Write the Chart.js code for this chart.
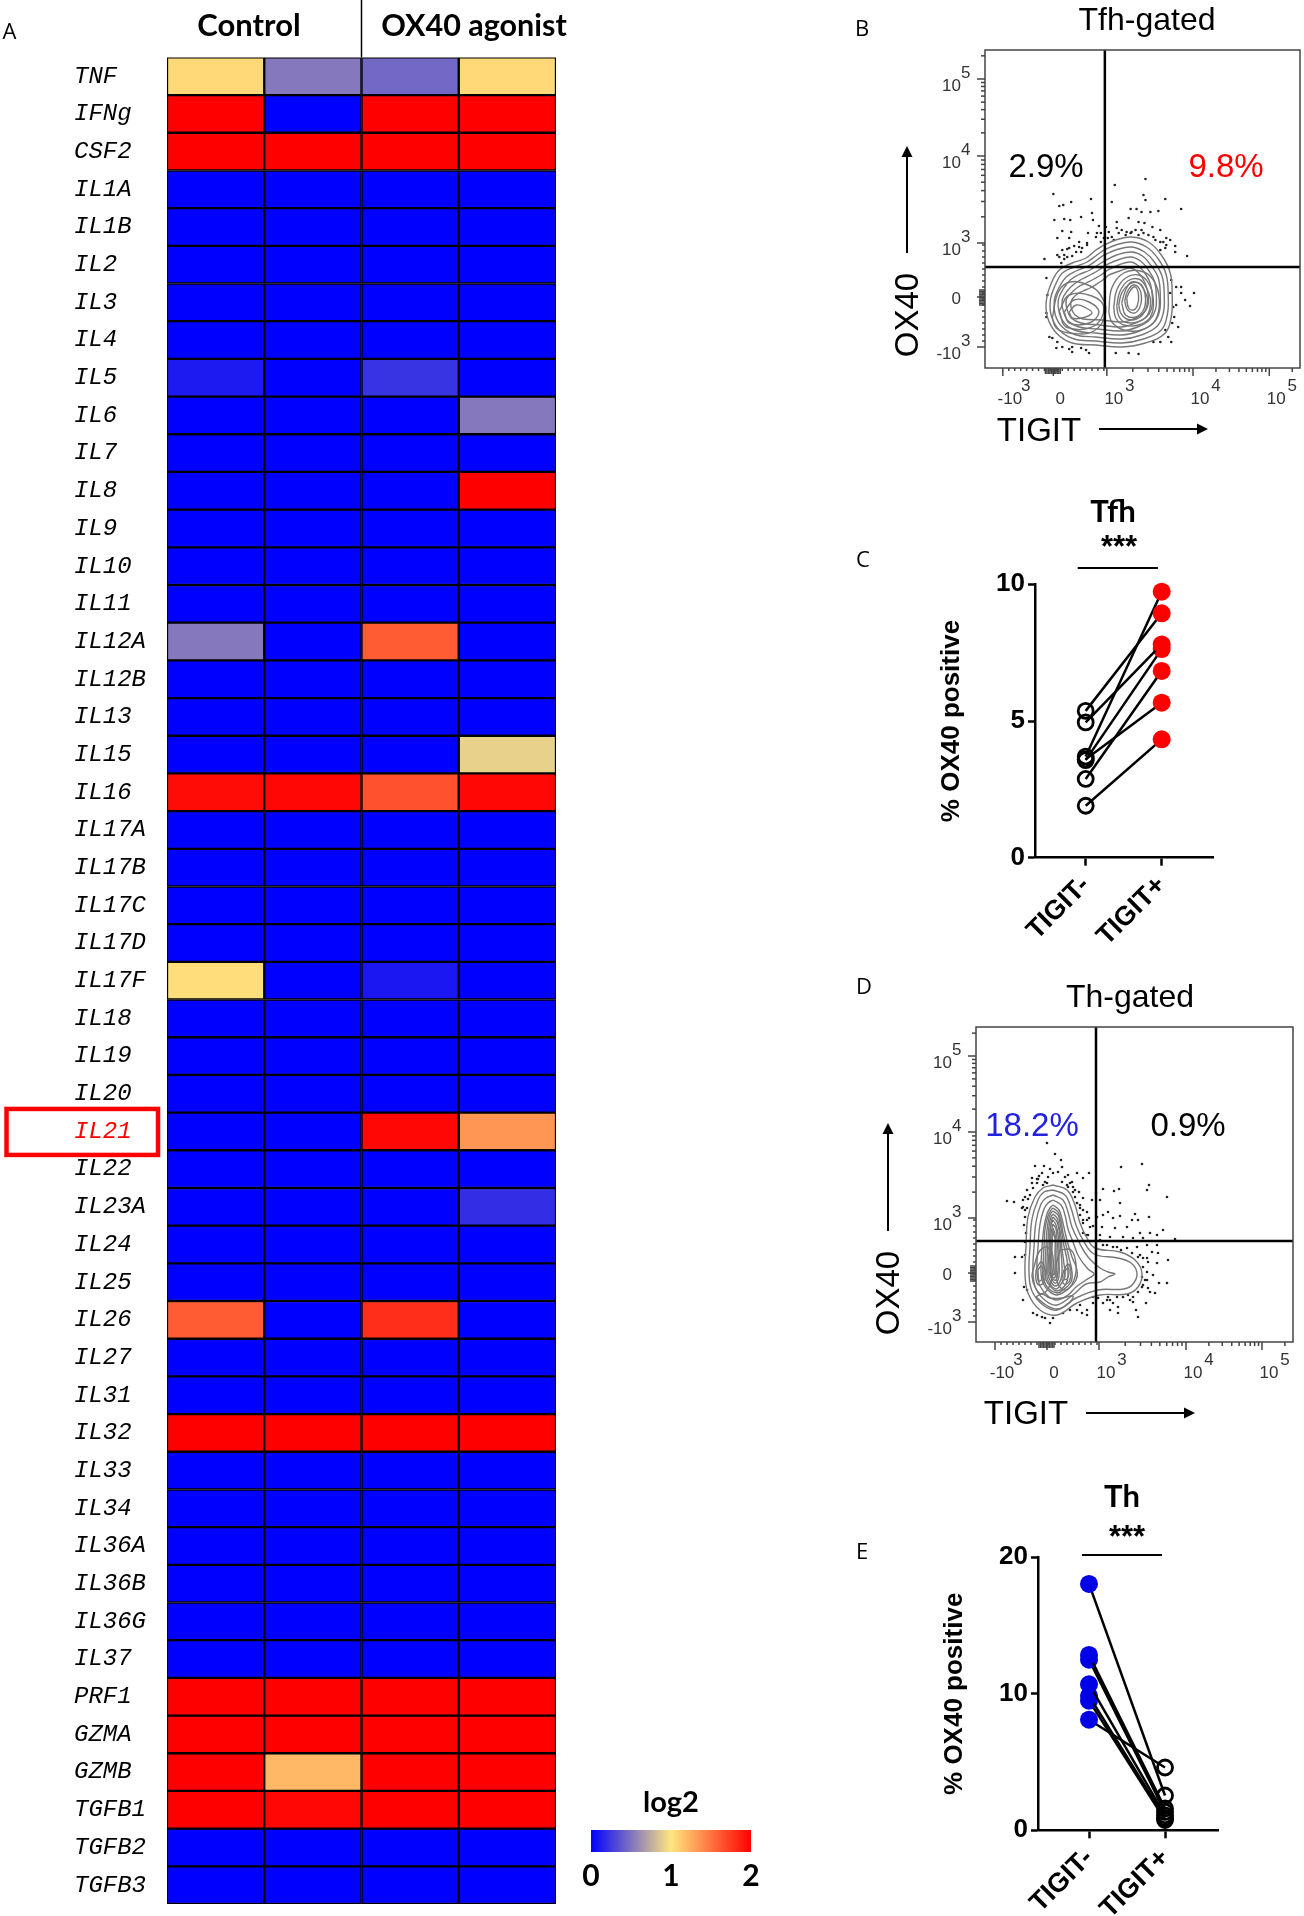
<!DOCTYPE html>
<html>
<head>
<meta charset="utf-8">
<title>OX40 TIGIT figure</title>
<script src="https://cdn.jsdelivr.net/npm/chart.js@4/dist/chart.umd.js"></script>
<style>
  html, body { margin: 0; background: #fff; }
  #page { position: relative; width: 1304px; height: 1916px; overflow: hidden; }
  canvas { position: absolute; left: 0; top: 0; }
</style>
</head>
<body>
<div id="page">
  <canvas id="heat" width="1304" height="1916"></canvas>
  <canvas id="legendBar" width="1304" height="1916"></canvas>
  <canvas id="flowB" width="1304" height="1916"></canvas>
  <canvas id="pairC" width="1304" height="1916"></canvas>
  <canvas id="flowD" width="1304" height="1916"></canvas>
  <canvas id="pairE" width="1304" height="1916"></canvas>
</div>
<script>
// panel A
var genes = ['TNF','IFNg','CSF2','IL1A','IL1B','IL2','IL3','IL4','IL5','IL6',
  'IL7','IL8','IL9','IL10','IL11','IL12A','IL12B','IL13','IL15','IL16',
  'IL17A','IL17B','IL17C','IL17D','IL17F','IL18','IL19','IL20','IL21','IL22',
  'IL23A','IL24','IL25','IL26','IL27','IL31','IL32','IL33','IL34','IL36A',
  'IL36B','IL36G','IL37','PRF1','GZMA','GZMB','TGFB1','TGFB2','TGFB3']
var control1 = [1.06,2,2,0,0,0,0,0,.11,0,
  0,0,0,0,0,.52,0,0,0,1.95,
  0,0,0,0,1.04,0,0,0,0,0,
  0,0,0,1.6,0,0,2,0,0,0,
  0,0,0,2,2,2,2,0,0]
var control2 = [.52,0,2,0,0,0,0,0,0,0,
  0,0,0,0,0,0,0,0,0,1.97,
  0,0,0,0,0,0,0,0,0,0,
  0,0,0,0,0,0,2,0,0,0,
  0,0,0,2,2,1.2,1.97,0,0]
var agonist1 = [.45,2,2,0,0,0,0,0,.22,0,
  0,0,0,0,0,1.6,0,0,0,1.65,
  0,0,0,0,.1,0,0,0,1.97,0,
  0,0,0,1.8,0,0,2,0,0,0,
  0,0,0,2,2,2,2,0,0]
var agonist2 = [1.06,2,2,0,0,0,0,0,0,.52,
  0,2,0,0,0,0,0,0,.91,1.97,
  0,0,0,0,0,0,0,0,1.35,0,
  .2,0,0,0,0,0,2,0,0,0,
  0,0,0,2,2,2,2,0,0]
var legendTicks = [0, 1, 2]

// panels C and E, same order = same donor
var pairLabels = ['TIGIT-', 'TIGIT+']
var tfhNeg = [1.9, 3.6, 2.88, 5.37, 4.95, 3.7, 3.57]
var tfhPos = [4.33, 5.67, 6.83, 8.94, 7.8, 9.73, 7.63]
var thNeg = [18.05, 12.85, 12.5, 10.7, 9.85, 9.5, 8.1]
var thPos = [2.55, 1.6, 1.35, 1.1, 0.9, 0.75, 4.6]

// flow panels, all in channel units
var tickLabelsFlow = ['-10|3', '0', '10|3', '10|4', '10|5']
var xTicksB = [18, 69, 123, 210, 287]
var yTicksB = [21, 71, 125, 212, 289]
var xTicksD = [19, 71, 123, 210, 286]
var yTicksD = [20, 69, 124, 210, 286]
var gatesB = [121, 101]
var gatesD = [120, 101]

var contoursB = [
  [[120,123],[132,128],[148,131],[165,126],[178,113],[187,95],[189,71],[188,51],[182,35],[162,25],[138,21],[112,23],[88,25],[72,35],[63,51],[62,68],[67,85],[75,98],[88,105],[102,110],[112,118]],
  [[120,118],[132,123],[148,126],[163,121],[175,109],[183,93],[185,71],[184,53],[178,38],[160,29],[138,25],[112,27],[90,29],[75,38],[67,52],[66,68],[71,83],[78,95],[90,101],[103,106],[113,113]],
  [[120,113],[132,118],[148,121],[161,116],[171,106],[179,91],[181,71],[180,55],[174,42],[158,33],[138,29],[112,31],[92,33],[78,41],[71,53],[70,68],[75,81],[82,91],[92,97],[104,102],[113,108]],
  [[122,108],[133,113],[148,116],[159,112],[168,102],[175,90],[177,71],[176,56],[170,45],[156,37],[138,33],[112,35],[93,37],[81,44],[75,55],[74,68],[79,79],[86,88],[94,93],[106,98],[114,103]],
  [[122,103],[134,108],[147,111],[157,107],[165,98],[171,87],[173,71],[172,58],[166,48],[154,41],[138,37],[114,39],[95,41],[84,47],[79,57],[78,68],[83,77],[90,84],[98,89],[108,94],[115,98]],
  [[124,98],[135,103],[147,106],[155,102],[162,94],[167,84],[169,71],[168,59],[163,51],[152,45],[138,41],[116,43],[97,45],[87,50],[83,58],[82,68],[87,75],[94,81],[102,85],[110,89],[117,93]],
  [[125,93],[136,97],[146,100],[153,97],[159,90],[163,81],[165,71],[164,61],[159,54],[150,49],[138,46],[118,48],[99,49],[91,53],[87,60],[87,67],[92,73],[99,77],[106,80],[113,84],[119,88]],
  [[125,56],[128,80],[140,95],[157,97],[170,88],[176,68],[172,48],[158,38],[140,38],[128,46]],
  [[130,61],[133,78],[142,90],[155,93],[165,85],[170,68],[167,51],[155,43],[140,43],[132,50]],
  [[133,62],[136,76],[144,87],[155,89],[162,82],[167,68],[164,53],[154,46],[141,46],[135,52]],
  [[135,63],[138,75],[146,84],[155,85],[160,79],[164,69],[161,56],[153,49],[143,49],[137,55]],
  [[138,65],[142,78],[148,86],[158,83],[162,70],[160,58],[152,51],[142,53]],
  [[141,67],[144,77],[150,83],[156,79],[158,69],[156,60],[151,55],[144,58]],
  [[143,70],[147,78],[152,81],[155,73],[154,63],[150,58],[145,60]],
  [[68,50],[74,76],[86,86],[104,83],[116,74],[122,56],[110,37],[85,35],[72,40]],
  [[75,57],[85,73],[108,72],[120,60],[110,42],[82,41]],
  [[80,56],[90,68],[105,66],[115,56],[105,45],[85,45]],
  [[85,56],[92,63],[102,60],[108,55],[98,50],[88,50]]
]
var dotsB = [[69,174],[75,162],[79,163],[87,166],[107,169],[131,183],[162,189],[160,173],[162,168],[182,169],
  [198,159],[128,166],[70,148],[80,149],[86,148],[97,151],[108,155],[109,148],[147,159],[153,159],
  [158,156],[167,156],[175,157],[133,146],[145,150],[155,146],[161,145],[169,141],[115,142],[78,137],
  [87,136],[73,130],[85,130],[104,135],[113,135],[122,141],[125,136],[133,140],[143,136],[152,138],
  [160,135],[177,138],[183,130],[180,126],[187,128],[192,122],[192,116],[204,112],[95,126],[103,125],
  [98,120],[90,122],[83,119],[78,118],[97,116],[88,112],[80,113],[73,113],[80,109],[60,109],
  [77,105],[62,90],[63,73],[62,55],[193,81],[198,81],[198,75],[202,68],[211,75],[207,62],
  [193,63],[187,75],[191,51],[195,41],[188,26],[182,38],[170,26],[155,14],[145,15],[132,15],
  [105,15],[97,20],[88,16],[72,20],[78,21],[120,130],[117,126],[130,128],[142,133],[147,135],
  [155,133],[172,128],[182,120],[177,118],[170,131],
  [112,131],[117,135],[124,130],[128,131],[135,135],[138,138],[148,136],[158,138],[165,133],[177,126],
  [183,123],[75,111],[83,111],[92,116],[85,120],[95,121],[103,123],[78,101],[188,88],[190,61],
  [189,45],[185,31],[177,26],[102,18],[88,21],[85,19],[73,26],[68,30],[65,31],[62,51]]

var contoursD = [
  [[77,157],[91,152],[99,137],[104,119],[111,104],[119,94],[144,90],[159,82],[166,69],[162,55],[151,48],[124,47],[101,39],[81,27],[64,32],[52,49],[49,69],[50,95],[52,125],[59,145],[67,154]],
  [[77,152],[89,147],[95,134],[100,117],[107,102],[118,88],[142,84],[155,79],[161,69],[157,58],[148,53],[122,52],[100,44],[81,32],[67,37],[56,51],[53,69],[54,95],[56,123],[62,142],[68,150]],
  [[77,147],[87,142],[92,130],[96,115],[103,100],[112,85],[124,74],[132,70],[139,68],[132,65],[124,60],[110,58],[98,48],[81,37],[70,41],[60,53],[57,69],[58,95],[60,120],[65,138],[70,144]],
  [[77,142],[85,137],[89,127],[92,113],[97,100],[103,85],[112,73],[118,68],[110,62],[100,55],[92,47],[81,42],[72,46],[64,56],[61,69],[62,95],[64,118],[68,133],[72,139]],
  [[77,137],[83,132],[86,123],[89,110],[92,98],[96,85],[101,72],[100,62],[92,53],[81,47],[73,51],[67,59],[65,69],[66,95],[68,115],[71,128],[74,134]],
  [[77,134],[82,130],[85,121],[87,109],[90,97],[93,84],[96,70],[95,60],[87,52],[81,49],[73,53],[68,61],[67,71],[68,95],[69,113],[72,126],[75,132]],
  [[77,131],[82,127],[84,119],[86,108],[88,96],[91,82],[92,68],[90,58],[81,51],[74,56],[70,62],[69,72],[70,95],[71,112],[73,124],[75,129]],
  [[77,128],[81,124],[83,116],[85,105],[86,93],[88,78],[89,65],[85,58],[80,53],[74,58],[71,65],[71,80],[72,100],[73,116],[75,125]],
  [[77,125],[81,120],[83,112],[84,102],[85,90],[86,75],[85,63],[80,56],[75,60],[72,68],[73,90],[74,108],[75,120]],
  [[77,122],[80,117],[82,108],[83,96],[83,80],[83,66],[80,59],[76,62],[73,71],[74,92],[74,105],[75,117]],
  [[77,118],[80,113],[81,103],[82,90],[82,72],[80,62],[76,64],[74,74],[75,92],[75,108]],
  [[77,114],[79,108],[80,97],[80,80],[80,68],[78,64],[75,70],[75,88],[76,100]],
  [[77,110],[79,103],[79,90],[79,74],[78,67],[76,72],[76,90],[76,102]],
  [[58,75],[63,90],[71,95],[77,85],[75,60],[66,48],[59,55],[56,66]],
  [[60,72],[65,80],[69,72],[68,60],[63,57],[60,62]],
  [[62,72],[65,76],[67,71],[66,63],[63,61]],
  [[84,92],[95,92],[100,78],[98,62],[90,52],[82,58],[80,75]],
  [[88,72],[92,78],[95,70],[93,60],[88,58],[86,64]],
  [[89,71],[92,74],[93,69],[91,63],[88,63]],
  [[60,45],[70,37],[81,33],[92,38],[97,46],[86,44],[74,44],[66,48]]
]
var dotsD = [[79,188],[71,199],[59,176],[68,176],[85,182],[86,175],[66,169],[74,173],[82,170],[92,167],
  [101,169],[113,169],[56,164],[62,163],[69,160],[86,160],[96,160],[107,164],[71,159],[92,155],
  [97,150],[103,150],[51,152],[54,147],[49,145],[31,141],[38,140],[47,135],[51,134],[49,125],
  [48,117],[50,109],[49,100],[107,144],[116,142],[124,142],[120,149],[127,153],[138,151],[143,153],
  [144,139],[145,175],[166,178],[173,157],[171,152],[191,145],[104,134],[111,130],[113,124],[107,119],
  [121,125],[127,127],[132,130],[137,124],[144,126],[159,128],[156,122],[162,122],[173,125],[126,115],
  [139,114],[151,115],[164,109],[174,109],[187,112],[181,107],[199,103],[107,109],[114,115],[124,107],
  [134,105],[147,105],[157,104],[167,104],[131,97],[141,95],[151,94],[161,95],[171,97],[181,97],
  [176,90],[182,89],[167,84],[172,80],[192,82],[181,79],[171,70],[177,67],[183,59],[191,59],
  [169,62],[174,50],[179,49],[166,55],[162,50],[152,47],[141,45],[131,42],[137,39],[157,40],
  [170,39],[142,29],[134,32],[160,32],[162,25],[117,39],[111,32],[104,37],[94,32],[111,27],
  [74,19],[69,24],[57,29],[47,42],[39,69],[39,85],[46,85],[61,159],[57,154],[97,155],
  [67,157],[91,157],[104,127],[107,122],[112,107],
  [56,159],[61,163],[63,166],[72,165],[77,169],[89,165],[94,159],[99,152],[99,145],[47,142],
  [49,132],[46,134],[52,143],[101,139],[104,137],[107,132],[111,122],[117,116],[110,107],[127,97],
  [124,102],[137,95],[145,92],[156,89],[164,87],[171,84],[162,85],[167,75],[166,65],[171,62],
  [167,57],[172,54],[157,45],[147,45],[134,42],[127,39],[132,45],[142,35],[154,42],[122,44],
  [49,87],[48,55],[51,52],[61,27],[66,25],[77,24],[87,29],[101,32],[106,29],[117,45]]


Chart.defaults.animation = false
Chart.defaults.responsive = false
Chart.defaults.devicePixelRatio = 1
Chart.defaults.plugins.legend.display = false
Chart.defaults.plugins.tooltip.enabled = false

var W = 1304, H = 1916
var SANS = '"Liberation Sans", Arial, sans-serif'
var HEAD = 'Lato, "Open Sans", sans-serif'

function area(l, t, r, b){
  return {left: l, top: t, right: W - r, bottom: H - b}
}

// free text + arrows, in page pixels since every canvas covers the page
function notes(items){
  return {
    id: 'notes',
    afterDraw(chart){
      const c = chart.ctx
      items.forEach(n => {
        c.save()
        c.translate(n.x, n.y)
        if(n.rot) c.rotate(n.rot)
        c.font = n.font
        c.fillStyle = n.color || '#000'
        c.textAlign = n.align || 'center'
        c.textBaseline = 'middle'
        c.fillText(n.text, 0, 0)
        c.restore()
      })
    }
  }
}

function arrow(c, x1, y1, x2, y2){
  const a = Math.atan2(y2-y1, x2-x1)
  c.save()
  c.strokeStyle = '#000'; c.fillStyle = '#000'; c.lineWidth = 2
  c.beginPath(); c.moveTo(x1, y1); c.lineTo(x2, y2); c.stroke()
  c.translate(x2, y2); c.rotate(a)
  c.beginPath(); c.moveTo(2, 0); c.lineTo(-9, -5.5); c.lineTo(-9, 5.5); c.closePath(); c.fill()
  c.restore()
}

function valueColor(v){
  var from, to, t
  if(v <= 1){ from = [0,0,255]; to = [255,230,128]; t = v }
  else { from = [255,230,128]; to = [255,0,0]; t = v - 1 }
  return 'rgb(' + from.map((f,i) => Math.round(f + (to[i]-f)*t)).join(',') + ')'
}

// ---------- A heatmap ----------
function heatDataset(values, col){
  return {
    data: values.map(() => [col, col+1]),
    backgroundColor: ctx => valueColor(values[ctx.dataIndex]),
    borderColor: '#000',
    borderWidth: 1.5,
    borderSkipped: false,
    grouped: false,
    barPercentage: 1,
    categoryPercentage: 1
  }
}

new Chart(document.getElementById('heat'), {
  type: 'bar',
  data: {
    labels: genes,
    datasets: [control1, control2, agonist1, agonist2].map(heatDataset)
  },
  options: {
    indexAxis: 'y',
    layout: {padding: area(74, 57.4, 556, 1904)},
    scales: {
      x: {display: false, min: 0, max: 4},
      y: {
        // labels hang over the ends, keep them out of the layout
        afterFit: s => { s.width = 93; s.paddingTop = 0; s.paddingBottom = 0 },
        grid: {display: false, drawTicks: false},
        border: {display: false},
        ticks: {
          autoSkip: false,
          crossAlign: 'far',
          padding: 0,
          font: {family: '"Liberation Mono", monospace', size: 24, style: 'italic'},
          color: ctx => genes[ctx.index] === 'IL21' ? '#ff0000' : '#000'
        }
      }
    }
  },
  plugins: [{
    id: 'heatExtras',
    afterDraw(chart){
      const c = chart.ctx, x = chart.scales.x, y = chart.scales.y
      const mid = x.getPixelForValue(2)
      c.save()
      c.strokeStyle = '#000'; c.lineWidth = 1.5
      c.beginPath(); c.moveTo(mid, 0); c.lineTo(mid, chart.chartArea.top); c.stroke()
      // box round the IL21 label
      const yy = y.getPixelForValue(genes.indexOf('IL21'))
      c.strokeStyle = '#ff0000'; c.lineWidth = 4.5
      c.strokeRect(6.5, yy - 22.5, 151.5, 46)
      c.restore()
    }
  }, notes([
    {text: 'A', x: 9.5, y: 33, font: '22px "Open Sans"'},
    {text: 'Control', x: 249, y: 26, font: 'bold 31px ' + HEAD},
    {text: 'OX40 agonist', x: 474, y: 26, font: 'bold 30.5px ' + HEAD}
  ])]
})

// ---------- colour key ----------
new Chart(document.getElementById('legendBar'), {
  type: 'bar',
  data: {
    labels: ['log2'],
    datasets: [{
      data: [[legendTicks[0], legendTicks[2]]],
      barPercentage: 1,
      categoryPercentage: 1,
      backgroundColor: ctx => {
        const a = ctx.chart.chartArea
        if(!a) return '#0000ff'
        const g = ctx.chart.ctx.createLinearGradient(a.left, 0, a.right, 0)
        legendTicks.forEach(v => g.addColorStop(v/2, valueColor(v)))
        return g
      }
    }]
  },
  options: {
    indexAxis: 'y',
    layout: {padding: area(591, 1830, 751, 1852 + 40)},
    scales: {
      y: {display: false},
      x: {
        min: 0, max: 2,
        afterFit: s => { s.height = 40 },
        grid: {display: false, drawTicks: false},
        border: {display: false},
        ticks: {stepSize: 1, padding: 6, color: '#000', font: {family: HEAD, size: 30, weight: 'bold'}}
      }
    }
  },
  plugins: [notes([{text: 'log2', x: 671, y: 1803, font: 'bold 29px ' + HEAD}])]
})

// ---------- B, D flow plots ----------
function closed(list){
  return list.concat([list[0]]).map(p => ({x: p[0], y: p[1]}))
}

function flowChart(id, box, spec){
  const sizeX = box.r - box.l, sizeY = box.b - box.t
  const datasets = [
    {data: [{x: spec.gates[0], y: 0}, {x: spec.gates[0], y: sizeY}], borderColor: '#000', borderWidth: 2.5, pointRadius: 0, showLine: true},
    {data: [{x: 0, y: spec.gates[1]}, {x: sizeX, y: spec.gates[1]}], borderColor: '#000', borderWidth: 2.5, pointRadius: 0, showLine: true}
  ]
  spec.contours.forEach(list => {
    datasets.push({data: closed(list), showLine: true, tension: 0.4, borderColor: '#777', borderWidth: 1.4, pointRadius: 0})
  })
  datasets.push({data: spec.dots.map(p => ({x: p[0], y: p[1]})), showLine: false, pointRadius: 1.3, backgroundColor: '#222', borderWidth: 0})

  new Chart(document.getElementById(id), {
    type: 'scatter',
    data: {datasets: datasets},
    options: {
      layout: {padding: area(box.l, box.t, box.r, box.b)},
      scales: {
        x: {display: false, min: 0, max: sizeX},
        y: {display: false, min: 0, max: sizeY}
      }
    },
    plugins: [{
      id: 'flowFrame',
      afterDraw(chart){
        const c = chart.ctx, a = chart.chartArea, x = chart.scales.x, y = chart.scales.y
        c.save()
        c.strokeStyle = '#444'; c.lineWidth = 1.5
        c.strokeRect(a.left, a.top, a.right - a.left, a.bottom - a.top)

        axisTicks(spec.xTicks, sizeX).forEach(t => {
          const p = x.getPixelForValue(t[0])
          c.beginPath(); c.moveTo(p, a.bottom); c.lineTo(p, a.bottom + t[1]); c.stroke()
        })
        axisTicks(spec.yTicks, sizeY).forEach(t => {
          const p = y.getPixelForValue(t[0])
          c.beginPath(); c.moveTo(a.left, p); c.lineTo(a.left - t[1], p); c.stroke()
        })

        c.fillStyle = '#333'
        c.font = '17px ' + SANS
        c.textBaseline = 'middle'
        c.textAlign = 'center'
        spec.xTicks.forEach((v, i) => {
          const p = x.getPixelForValue(v) + 7
          const parts = tickLabelsFlow[i].split('|')
          c.fillText(parts[0], p, a.bottom + 31)
          if(parts[1]) c.fillText(parts[1], p + 16, a.bottom + 18)
        })
        spec.yTicks.forEach((v, i) => {
          const p = y.getPixelForValue(v)
          const parts = tickLabelsFlow[i].split('|')
          c.textAlign = 'right'
          c.fillText(parts[0], a.left - 24, parts[1] ? p + 7 : p + 2)
          if(parts[1]){
            c.textAlign = 'left'
            c.fillText(parts[1], a.left - 24, p - 6)
          }
        })
        c.restore()
        arrow(c, spec.upArrow[0], spec.upArrow[1], spec.upArrow[0], spec.upArrow[2])
        arrow(c, spec.rightArrow[0], spec.rightArrow[2], spec.rightArrow[1], spec.rightArrow[2])
      }
    }, notes(spec.notes)]
  })
}

// major ticks long, log minors in the decades, fine linear ones round zero
function axisTicks(major, size){
  const out = major.map(v => [v, 8])
  for(let d = 2; d < major.length - 1; d++){
    const step = major[d+1] - major[d]
    for(let k = 2; k < 10; k++) out.push([major[d] + step*Math.log10(k), 4])
  }
  for(let k = 2; k < 10; k++){
    const v = major[major.length-1] + (major[major.length-1] - major[major.length-2])*Math.log10(k)
    if(v < size) out.push([v, 4])
  }
  for(let v = major[0] + 6; v < major[2]; v += 6) out.push([v, 3])
  for(let v = major[1] - 8; v <= major[1] + 8; v += 1.5) out.push([v, 6])
  return out
}

var bigFont = '33px ' + SANS

flowChart('flowB', {l: 985, t: 50, r: 1303, b: 368}, {
  gates: gatesB, contours: contoursB, dots: dotsB, xTicks: xTicksB, yTicks: yTicksB,
  upArrow: [907, 253, 148], rightArrow: [1099, 1206, 429],
  notes: [
    {text: 'B', x: 862, y: 30, font: '22px "Open Sans"'},
    {text: 'Tfh-gated', x: 1147, y: 21, font: '32px ' + SANS},
    {text: '2.9%', x: 1046, y: 168, font: bigFont},
    {text: '9.8%', x: 1226, y: 168, font: bigFont, color: '#ff0000'},
    {text: 'OX40', x: 909, y: 315, font: bigFont, rot: -Math.PI/2},
    {text: 'TIGIT', x: 1039, y: 432, font: bigFont}
  ]
})

flowChart('flowD', {l: 976, t: 1027, r: 1293, b: 1342}, {
  gates: gatesD, contours: contoursD, dots: dotsD, xTicks: xTicksD, yTicks: yTicksD,
  upArrow: [888, 1231, 1125], rightArrow: [1086, 1193, 1413],
  notes: [
    {text: 'D', x: 864, y: 988, font: '22px "Open Sans"'},
    {text: 'Th-gated', x: 1130, y: 998, font: '32px ' + SANS},
    {text: '18.2%', x: 1032, y: 1127, font: bigFont, color: '#2222e0'},
    {text: '0.9%', x: 1188, y: 1127, font: bigFont},
    {text: 'OX40', x: 890, y: 1293, font: bigFont, rot: -Math.PI/2},
    {text: 'TIGIT', x: 1026, y: 1415, font: bigFont}
  ]
})

// ---------- C, E paired plots ----------
function pairChart(id, box, spec){
  const datasets = [{
    data: [{x: spec.barX[0], y: spec.barY}, {x: spec.barX[1], y: spec.barY}],
    showLine: true, borderColor: '#000', borderWidth: 2, pointRadius: 0, clip: false
  }]
  spec.left.forEach((v, i) => {
    datasets.push({
      data: [{x: 0, y: v}, {x: 1, y: spec.right[i]}],
      showLine: true,
      clip: false,
      borderColor: '#000',
      borderWidth: 2.5,
      pointRadius: c => c.dataIndex === spec.filled ? 9 : 7.5,
      pointBorderWidth: c => c.dataIndex === spec.filled ? 0 : 2.8,
      pointBorderColor: '#000',
      pointBackgroundColor: c => c.dataIndex === spec.filled ? spec.color : 'rgba(0,0,0,0)'
    })
  })
  new Chart(document.getElementById(id), {
    type: 'scatter',
    data: {datasets: datasets},
    options: {
      layout: {padding: area(box.pad, box.t, box.r, box.b + 90)},
      scales: {
        x: {
          min: spec.xRange[0], max: spec.xRange[1],
          afterFit: s => { s.height = 90 },
          afterBuildTicks: s => { s.ticks = [{value: 0}, {value: 1}] },
          grid: {drawOnChartArea: false, tickLength: 8, tickColor: '#000', tickWidth: 2.5},
          border: {color: '#000', width: 2.5},
          ticks: {
            autoSkip: false, minRotation: 45, maxRotation: 45, padding: 4, color: '#000',
            font: {family: SANS, size: 27, weight: 'bold'},
            callback: v => pairLabels[v]
          }
        },
        y: {
          min: 0, max: spec.yMax,
          afterFit: s => { s.width = box.l - box.pad },
          grid: {drawOnChartArea: false, tickLength: 7, tickColor: '#000', tickWidth: 2.5},
          border: {color: '#000', width: 2.5},
          title: {
            display: true, text: '% OX40 positive', color: '#000', padding: 0,
            font: {family: SANS, size: 26, weight: 'bold'}
          },
          ticks: {stepSize: spec.yStep, padding: 3, color: '#000', font: {family: SANS, size: 26, weight: 'bold'}}
        }
      }
    },
    plugins: [notes(spec.notes)]
  })
}

pairChart('pairC', {l: 1035, pad: 936, t: 584.3, r: 1213, b: 857.7}, {
  left: tfhNeg, right: tfhPos, filled: 1, color: '#ff0000',
  xRange: [-0.667, 1.675], yMax: 10, yStep: 5, barX: [-0.105, 0.95], barY: 10.6,
  notes: [
    {text: 'C', x: 863, y: 561, font: '22px "Open Sans"'},
    {text: 'Tfh', x: 1113, y: 512, font: 'bold 31px ' + HEAD},
    {text: '***', x: 1119, y: 548, font: 'bold 31px ' + SANS}
  ]
})

pairChart('pairE', {l: 1038, pad: 939, t: 1557.3, r: 1218, b: 1830.3}, {
  left: thNeg, right: thPos, filled: 0, color: '#0000e6',
  xRange: [-0.671, 1.697], yMax: 20, yStep: 10, barX: [-0.092, 0.96], barY: 20.17,
  notes: [
    {text: 'E', x: 862, y: 1553, font: '22px "Open Sans"'},
    {text: 'Th', x: 1122, y: 1497, font: 'bold 31px ' + HEAD},
    {text: '***', x: 1127, y: 1538, font: 'bold 31px ' + SANS}
  ]
})
</script>
</body>
</html>
